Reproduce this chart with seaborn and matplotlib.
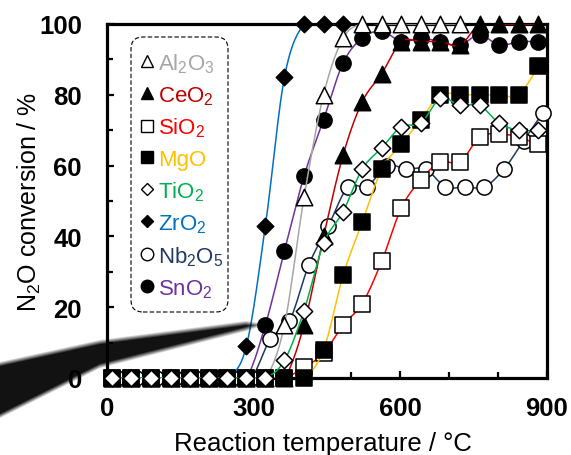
"""
N2O conversion vs reaction temperature over eight oxide catalysts.
"""

import matplotlib

matplotlib.use("Agg")

import matplotlib.pyplot as plt
import numpy as np
import seaborn as sns
from matplotlib.lines import Line2D
from matplotlib.patches import FancyBboxPatch
from matplotlib.ticker import MultipleLocator
from matplotlib.transforms import IdentityTransform

# -- data ---------------------------------------------------------------------
TEMP = [10, 50, 90, 130, 170, 208, 246, 285, 324, 363, 403, 443,
        483, 522, 562, 602, 642, 682, 722, 762, 802, 842, 882]
TEMP_NB = [20, 60, 100, 140, 180, 218, 256, 295, 334, 373, 413, 453,
           493, 532, 572, 612, 652, 692, 732, 772, 812, 852, 892]

AL2O3 = [0, 0, 0, 0, 0, 0, 0, 0, 0, 15, 51, 80, 96, 100, 100, 100, 100, 100, 100]
CEO2 = [0, 0, 0, 0, 0, 0, 0, 0, 0, 0, 15, 40, 63, 78, 86, 95, 95, 95, 94,
        100, 100, 100, 100]
SIO2 = [0, 0, 0, 0, 0, 0, 0, 0, 0, 0, 3, 7, 15, 21, 33, 48, 56, 61, 61,
        68, 69, 68, 66]
MGO = [0, 0, 0, 0, 0, 0, 0, 0, 0, 0, 0, 8, 29, 44, 59, 66, 73, 80, 80,
       80, 80, 80, 88]
TIO2 = [0, 0, 0, 0, 0, 0, 0, 0, 0, 5, 19, 38, 47, 59, 65, 71, 72, 79, 77,
        77, 72, 70, 70]
ZRO2 = [0, 0, 0, 0, 0, 0, 0, 9, 43, 85, 100, 100, 100]
NB2O5 = [0, 0, 0, 0, 0, 0, 0, 0, 11, 16, 32, 43, 54, 54, 60, 59, 59, 54,
         54, 54, 59, 67, 75]
SNO2 = [0, 0, 0, 0, 0, 0, 0, 0, 15, 36, 57, 73, 89, 96, 98, 95, 96, 95,
        94, 97, 94, 95, 95]

LABELS = ["Al$_\\mathregular{2}$O$_\\mathregular{3}$", "CeO$_\\mathregular{2}$",
          "SiO$_\\mathregular{2}$", "MgO", "TiO$_\\mathregular{2}$",
          "ZrO$_\\mathregular{2}$", "Nb$_\\mathregular{2}$O$_\\mathregular{5}$",
          "SnO$_\\mathregular{2}$"]
COLORS = ["#A6A6A6", "#C00000", "#FF0000", "#FFC000", "#00B050", "#0070C0",
          "#1F3864", "#7030A0"]
MARKERS = ["^", "^", "s", "s", "D", "D", "o", "o"]
FACES = ["white", "black", "white", "black", "white", "black", "white", "black"]
SERIES_T = [TEMP[:19], TEMP, TEMP, TEMP, TEMP, TEMP[:13], TEMP_NB, TEMP]
SERIES_Y = [AL2O3, CEO2, SIO2, MGO, TIO2, ZRO2, NB2O5, SNO2]

# Excel stacking order (index into the legend order)
DRAW_ORDER = [7, 5, 6, 0, 1, 2, 3, 4]
MARKER_S = {"^": 140, "s": 120, "D": 70, "o": 120}

# decorative shadow wedge seen in the lower left of the scan (pixel coords)
SHADOW_X = [0, 100, 246, 258]
SHADOW_C = [391, 355, 327, 326]
SHADOW_H = [26, 12, 3, 0]

W, H = 571, 456
AX_L, AX_R, AX_T, AX_B = 107, 547, 25, 379
LEG_BOX = (131, 38, 228, 313)  # left, top, right, bottom in pixels


def smooth(x, y, n=24):
    """Courbe lissee type Excel (Catmull-Rom) calculee en pixels."""
    sx = (AX_R - AX_L) / 900.0
    sy = (AX_B - AX_T) / 100.0
    p = np.column_stack([np.asarray(x, float) * sx, np.asarray(y, float) * sy])
    p = np.vstack([p[0], p, p[-1]])
    t = np.linspace(0, 1, n)[:, None]
    out = []
    for i in range(1, len(p) - 2):
        p0, p1, p2, p3 = p[i - 1], p[i], p[i + 1], p[i + 2]
        c1 = p1 + (p2 - p0) / 6.0
        c2 = p2 - (p3 - p1) / 6.0
        seg = ((1 - t) ** 3) * p1 + 3 * ((1 - t) ** 2) * t * c1 \
            + 3 * (1 - t) * t ** 2 * c2 + t ** 3 * p2
        out.append(seg if i == 1 else seg[1:])
    out = np.vstack(out)
    return out[:, 0] / sx, out[:, 1] / sy


sns.set_style("ticks")
plt.rcParams["font.family"] = ["Liberation Sans", "DejaVu Sans"]
plt.rcParams["mathtext.fontset"] = "custom"
plt.rcParams["mathtext.rm"] = "Liberation Sans"
for key in ["text.color", "axes.labelcolor", "xtick.color", "ytick.color"]:
    plt.rcParams[key] = "black"

fig = plt.figure(figsize=(W / 100, H / 100), dpi=100)
ax = fig.add_axes([AX_L / W, (H - AX_B) / H, (AX_R - AX_L) / W, (AX_B - AX_T) / H])

for z, i in enumerate(DRAW_ORDER):
    xs, ys = smooth(SERIES_T[i], SERIES_Y[i])
    sns.lineplot(x=xs, y=ys, sort=False, estimator=None, color=COLORS[i],
                 linewidth=1.1, ax=ax, zorder=3 + 2 * z)
    sns.scatterplot(x=SERIES_T[i], y=SERIES_Y[i], marker=MARKERS[i],
                    s=MARKER_S[MARKERS[i]], color=FACES[i], edgecolor="black",
                    linewidth=1.1, ax=ax, zorder=4 + 2 * z, clip_on=False,
                    legend=False)

ax.set_xlim(0, 900)
ax.set_ylim(0, 100)
ax.xaxis.set_major_locator(MultipleLocator(300))
ax.xaxis.set_minor_locator(MultipleLocator(100))
ax.yaxis.set_major_locator(MultipleLocator(20))
ax.yaxis.set_minor_locator(MultipleLocator(10))
ax.tick_params(which="both", direction="in", width=1.6, labelsize=18.5)
ax.tick_params(which="major", length=5)
ax.tick_params(which="minor", length=4)
ax.tick_params(axis="y", which="major", pad=18)
ax.tick_params(axis="x", which="major", pad=13)
for lab in ax.get_xticklabels() + ax.get_yticklabels():
    lab.set_fontweight("bold")
for sp in ax.spines.values():
    sp.set_linewidth(2.3)
    sp.set_color("black")

ax.set_xlabel("Reaction temperature / °C", fontsize=18.5)
ax.set_ylabel("N$_\\mathregular{2}$O conversion / %", fontsize=18)
ax.xaxis.set_label_coords(0.49, -0.15)
ax.yaxis.set_label_coords(-0.145, 0.5)

# -- legende : cadre arrondi en pointilles dessine a la main -------------------
l, t, r, b = LEG_BOX
box = FancyBboxPatch((l, H - b), r - l, b - t, boxstyle="round,pad=0,rounding_size=12",
                     transform=IdentityTransform(), facecolor="white", edgecolor="black",
                     linewidth=0.8, linestyle=(0, (4, 2)), zorder=40, clip_on=False)
ax.add_artist(box)

handles = [
    Line2D([], [], ls="none", marker=MARKERS[i], markersize=9 if MARKERS[i] != "D" else 6.2,
           markerfacecolor=FACES[i], markeredgecolor="black", markeredgewidth=1.0)
    for i in range(len(LABELS))
]
leg = ax.legend(handles, LABELS, loc="upper left", bbox_to_anchor=(141 / W, 1 - 52 / H),
                bbox_transform=fig.transFigure, borderaxespad=0, borderpad=0,
                fontsize=16, labelcolor=COLORS, handlelength=0.56, handletextpad=0.2,
                labelspacing=0.42, frameon=False)
leg.set_zorder(45)

# ombre de la numerisation
yy, xx = np.mgrid[0:H, 0:W] + 0.5
cen = np.interp(xx, SHADOW_X, SHADOW_C)
half = np.interp(xx, SHADOW_X, SHADOW_H, right=-10)
alpha = np.clip((half - np.abs(yy - cen)) / 5.0 + 0.5, 0, 1) * 0.93
rgba = np.zeros((H, W, 4))
rgba[..., 3] = alpha
ov = fig.add_axes([0, 0, 1, 1], zorder=50)
ov.imshow(rgba, extent=(0, W, H, 0), interpolation="bilinear", aspect="auto")
ov.set_xlim(0, W)
ov.set_ylim(H, 0)
ov.axis("off")

fig.savefig("out.png", dpi=100)
